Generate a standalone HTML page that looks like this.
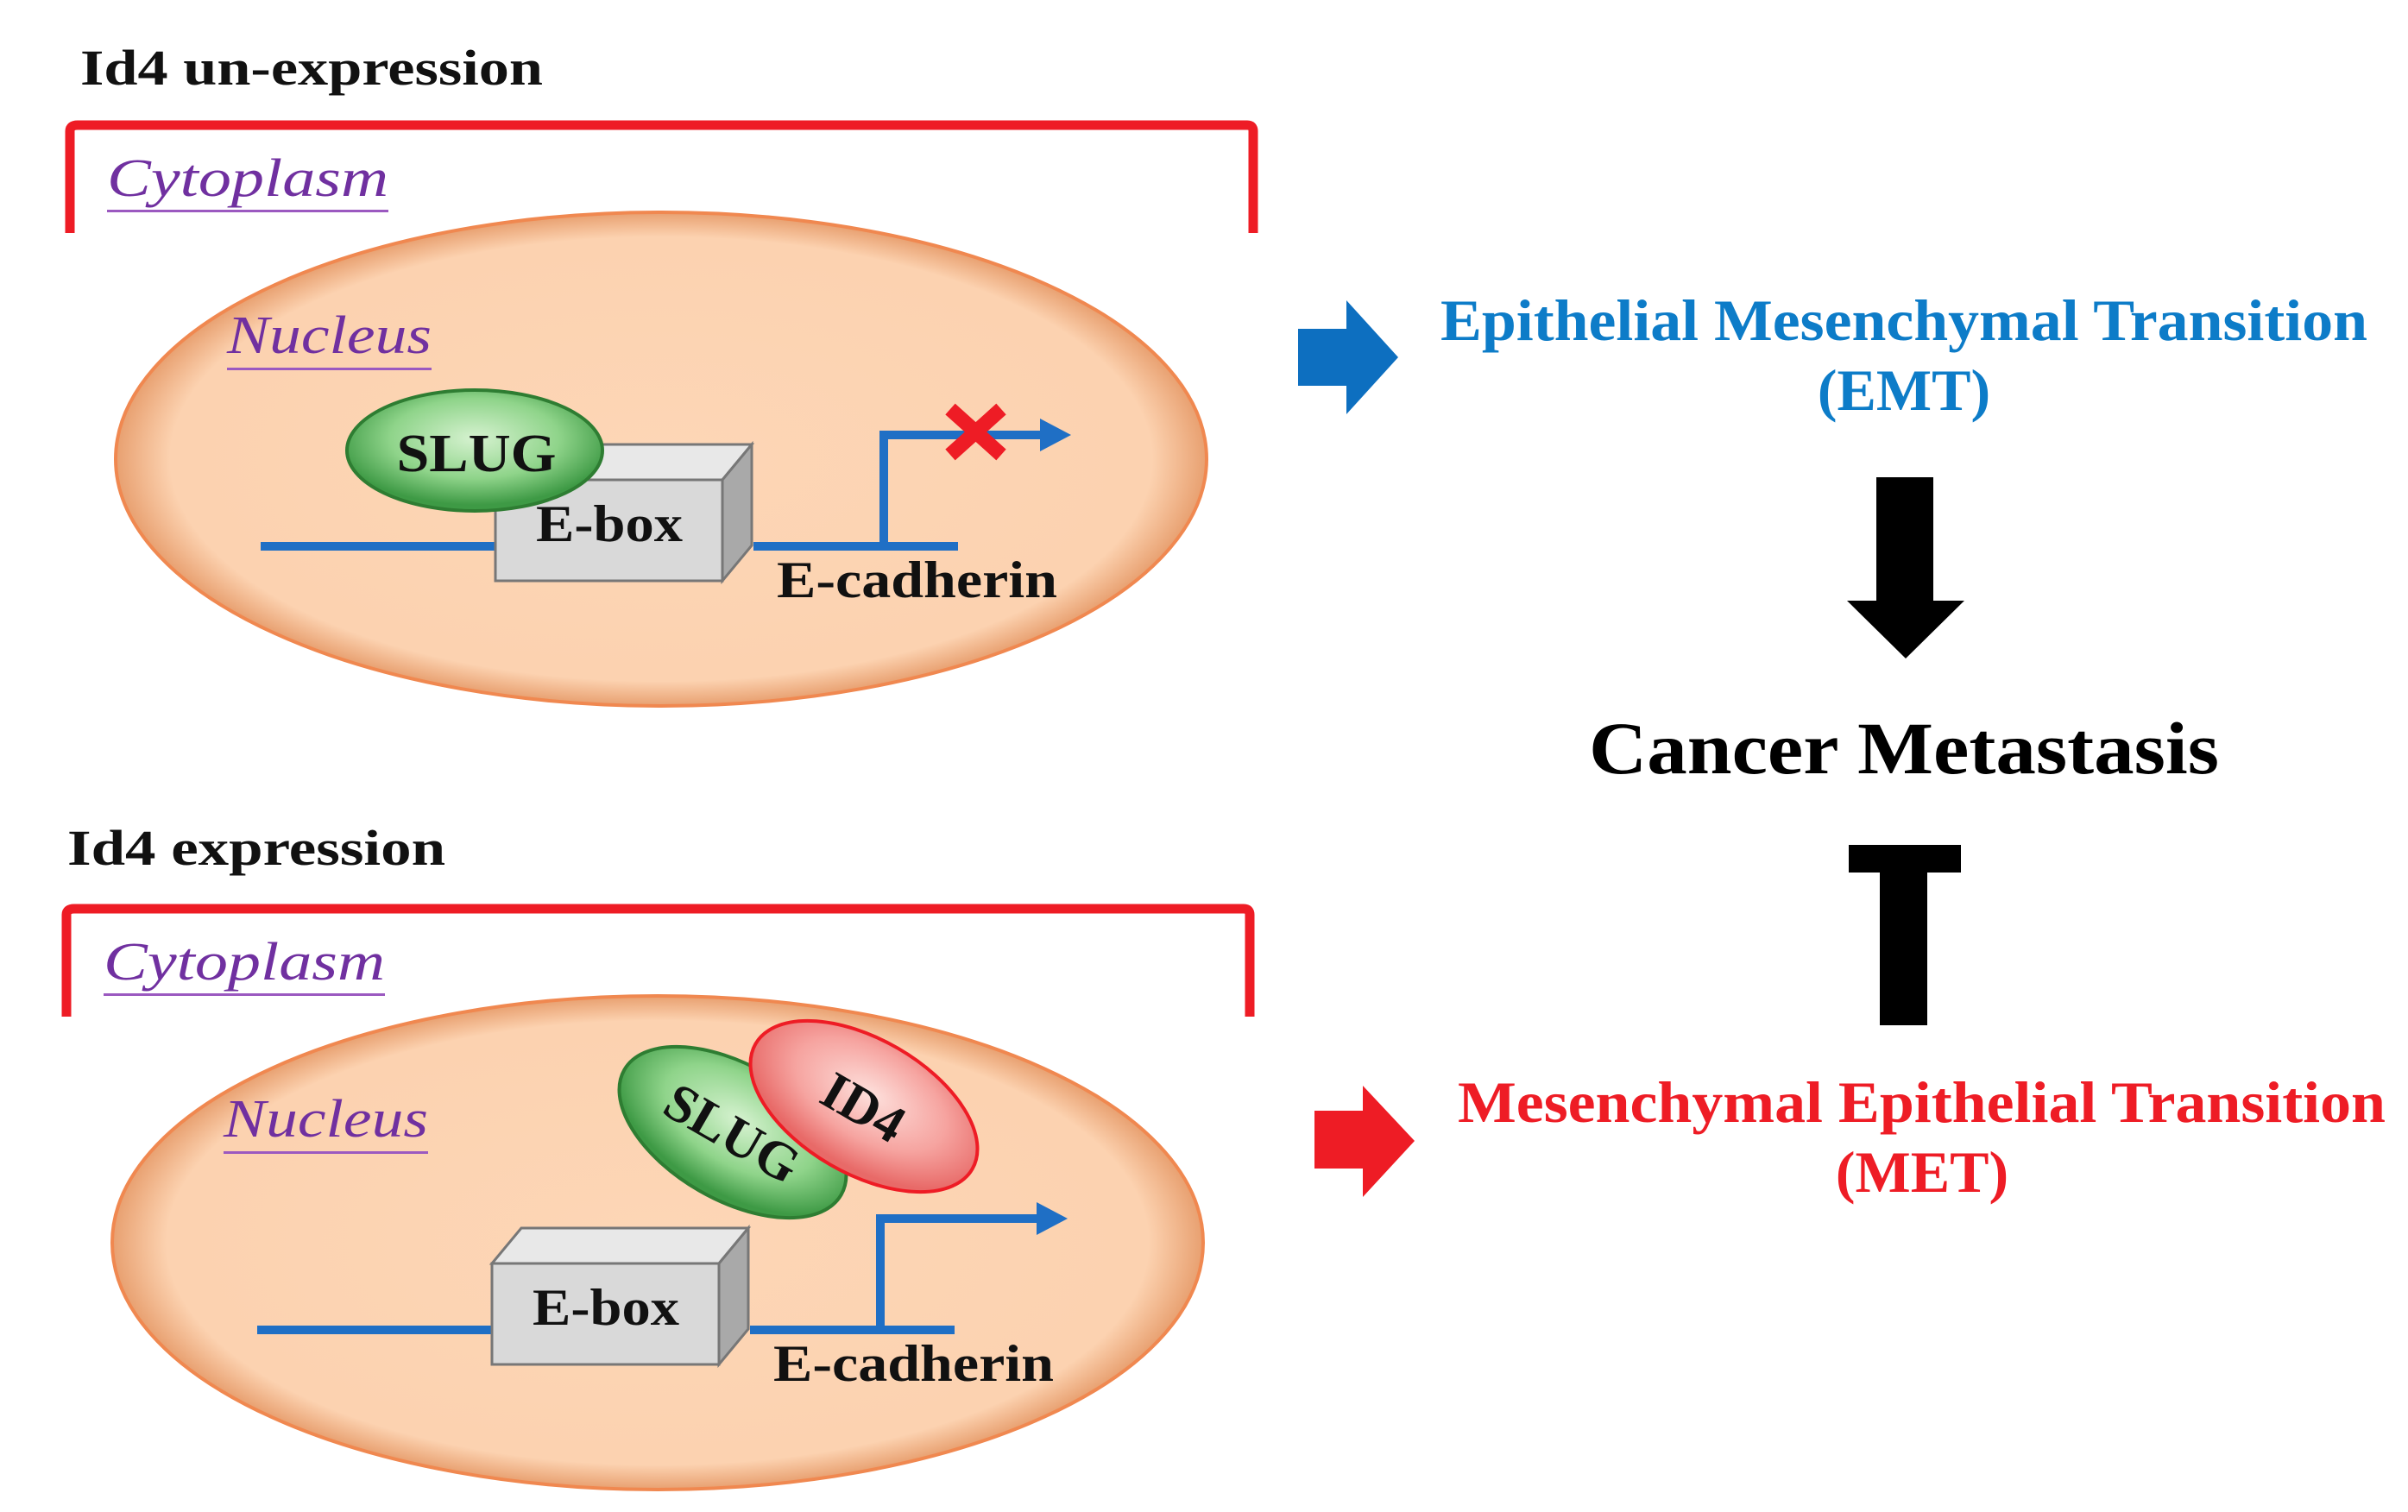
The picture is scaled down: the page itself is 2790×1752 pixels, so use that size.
<!DOCTYPE html>
<html><head><meta charset="utf-8"><style>html,body{margin:0;padding:0;background:#fff}svg{display:block}</style></head>
<body>
<svg width="2790" height="1752" viewBox="0 0 2790 1752" xmlns="http://www.w3.org/2000/svg" font-family="'Liberation Serif', serif">
<defs>
<radialGradient id="nuc" cx="50%" cy="50%" r="50%">
<stop offset="0" stop-color="#fdd6b6"/><stop offset="0.9" stop-color="#fcd2b0"/><stop offset="1" stop-color="#e8a070"/>
</radialGradient>
<radialGradient id="green" cx="50%" cy="40%" r="55%">
<stop offset="0" stop-color="#d6f2d0"/><stop offset="0.6" stop-color="#8fd48a"/><stop offset="1" stop-color="#3e9a45"/>
</radialGradient>
<radialGradient id="pink" cx="50%" cy="40%" r="55%">
<stop offset="0" stop-color="#fde0dc"/><stop offset="0.6" stop-color="#f6a4a0"/><stop offset="1" stop-color="#e86a68"/>
</radialGradient>
<g id="panel">
<path d="M81 270 L81 152 Q81 145 90 145 L1445 145 Q1452 145 1452 152 L1452 270" fill="none" stroke="#ee1c25" stroke-width="11"/>
<text x="124" y="227" font-size="62" font-style="italic" fill="#7030a0" textLength="326" lengthAdjust="spacingAndGlyphs">Cytoplasm</text>
<rect x="124" y="243" width="326" height="3" fill="#9b59c0"/>
<ellipse cx="766" cy="532" rx="632" ry="286" fill="url(#nuc)" stroke="#f08850" stroke-width="4"/>
<text x="263" y="409" font-size="62" font-style="italic" fill="#7030a0" textLength="237" lengthAdjust="spacingAndGlyphs">Nucleus</text>
<rect x="263" y="426" width="237" height="3" fill="#9b59c0"/>
<rect x="302" y="628" width="272" height="10" fill="#1f6fc5"/>
<rect x="873" y="628" width="237" height="10" fill="#1f6fc5"/>
<rect x="1019" y="499" width="10" height="134" fill="#1f6fc5"/>
<rect x="1019" y="499" width="190" height="10" fill="#1f6fc5"/>
<polygon points="1205,485 1241,504 1205,523" fill="#1f6fc5"/>
<polygon points="574,556 608,515 871,515 837,556" fill="#e8e8e8" stroke="#777" stroke-width="3"/>
<polygon points="837,556 871,515 871,632 837,673" fill="#a9a9a9" stroke="#777" stroke-width="3"/>
<rect x="574" y="556" width="263" height="117" fill="#d9d9d9" stroke="#777" stroke-width="3"/>
<text x="706" y="627" font-size="60" font-weight="bold" text-anchor="middle" fill="#111" textLength="170" lengthAdjust="spacingAndGlyphs">E-box</text>
<text x="900" y="692" font-size="60" font-weight="bold" fill="#111" textLength="325" lengthAdjust="spacingAndGlyphs">E-cadherin</text>
</g>
</defs>
<text x="93" y="98" font-size="58" font-weight="bold" fill="#111" textLength="536" lengthAdjust="spacingAndGlyphs">Id4 un-expression</text>
<use href="#panel"/>
<path d="M1101 474 L1160 527 M1160 474 L1101 527" stroke="#ee1c25" stroke-width="17"/>
<ellipse cx="550" cy="522" rx="148" ry="70" fill="url(#green)" stroke="#2e7d32" stroke-width="4"/>
<text x="552" y="546" font-size="62" font-weight="bold" text-anchor="middle" fill="#111" textLength="185" lengthAdjust="spacingAndGlyphs">SLUG</text>

<text x="78" y="1002" font-size="58" font-weight="bold" fill="#111" textLength="438" lengthAdjust="spacingAndGlyphs">Id4 expression</text>
<use href="#panel" transform="translate(-4,908)"/>
<g transform="rotate(30 849 1312)">
<ellipse cx="849" cy="1312" rx="145" ry="78" fill="url(#green)" stroke="#2e7d32" stroke-width="4"/>
<text x="849" y="1334" font-size="62" font-weight="bold" text-anchor="middle" fill="#111">SLUG</text>
</g>
<g transform="rotate(30 1001 1282)">
<ellipse cx="1001" cy="1282" rx="145" ry="78" fill="url(#pink)" stroke="#ee1c25" stroke-width="4"/>
<text x="1001" y="1304" font-size="62" font-weight="bold" text-anchor="middle" fill="#111">ID4</text>
</g>

<polygon points="1504,381 1560,381 1560,348 1620,414 1560,480 1560,447 1504,447" fill="#0d6fc0"/>
<text x="1669" y="394" font-size="68" font-weight="bold" fill="#0d7cc8" textLength="1074" lengthAdjust="spacingAndGlyphs">Epithelial  Mesenchymal Transition</text>
<text x="2206" y="475" font-size="68" font-weight="bold" fill="#0d7cc8" text-anchor="middle">(EMT)</text>
<polygon points="2174,553 2240,553 2240,696 2276,696 2208,763 2140,696 2174,696" fill="#000"/>
<text x="2206" y="896" font-size="86" font-weight="bold" fill="#000" text-anchor="middle" textLength="730" lengthAdjust="spacingAndGlyphs">Cancer Metastasis</text>
<rect x="2142" y="979" width="130" height="32" fill="#000"/>
<rect x="2178" y="979" width="55" height="209" fill="#000"/>
<polygon points="1523,1287 1579,1287 1579,1258 1639,1322 1579,1387 1579,1354 1523,1354" fill="#ee1c25"/>
<text x="1689" y="1300" font-size="68" font-weight="bold" fill="#ee1c25" textLength="1075" lengthAdjust="spacingAndGlyphs">Mesenchymal Epithelial  Transition</text>
<text x="2227" y="1381" font-size="68" font-weight="bold" fill="#ee1c25" text-anchor="middle">(MET)</text>
</svg>
</body></html>
